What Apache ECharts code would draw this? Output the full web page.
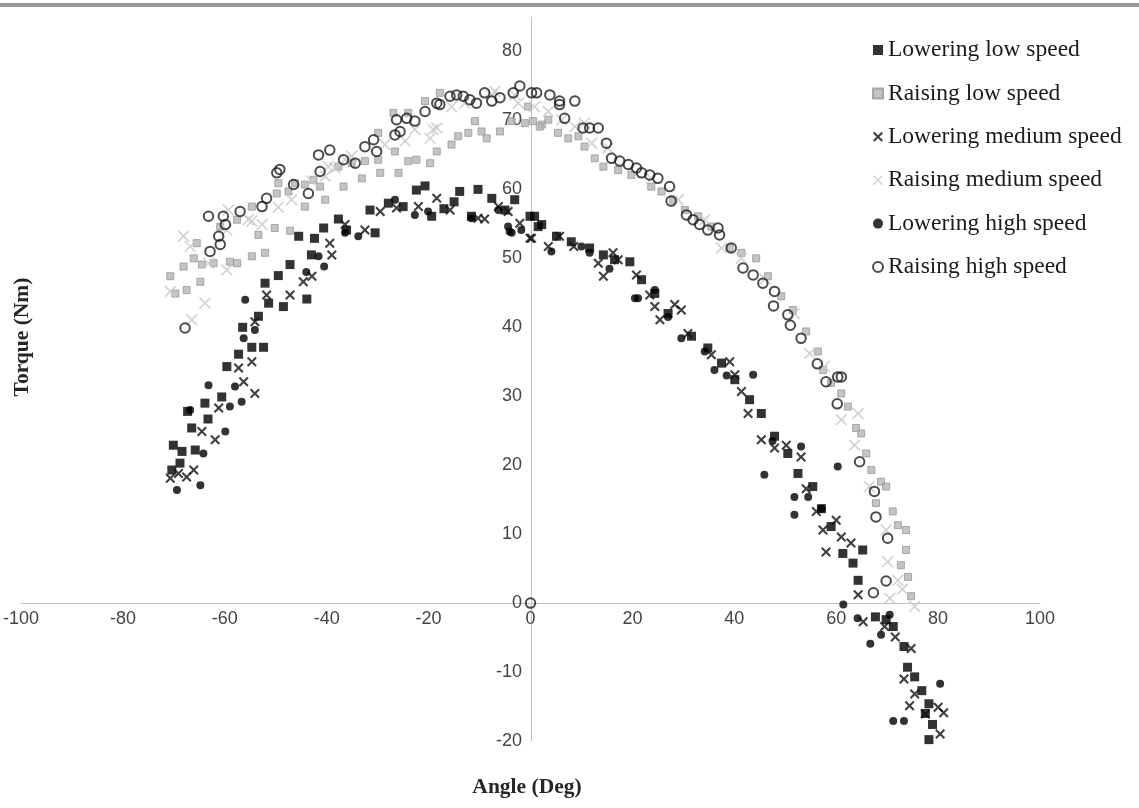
<!DOCTYPE html>
<html>
<head>
<meta charset="utf-8">
<script src="https://cdn.jsdelivr.net/npm/echarts@6/dist/echarts.min.js"></script>
<style>html,body{margin:0;padding:0;background:#fff}#c{width:1139px;height:808px}</style>
</head>
<body>
<div id="c"></div>
<script>
const seriesNames = ['Lowering low speed','Raising low speed','Lowering medium speed','Raising medium speed','Lowering high speed','Raising high speed'];
const xTicks = [-100,-80,-60,-40,-20,0,20,40,60,80,100];
const yTicks = [-20,-10,0,10,20,30,40,50,60,70,80];

const loweringLow = [[-70.4,19.3],[-68.8,20.3],[-70.1,22.9],[-68.4,22.0],[-65.8,22.2],[-66.5,25.4],[-67.3,27.8],[-63.3,26.7],[-63.9,29.0],[-60.6,29.9],[-59.6,34.3],[-57.3,36.1],[-54.7,37.1],[-52.4,37.1],[-56.5,40.0],[-53.4,41.6],[-51.4,43.5],[-48.5,43.0],[-43.9,44.1],[-52.1,46.4],[-49.5,47.5],[-47.2,49.1],[-43.0,50.5],[-45.5,53.2],[-42.4,52.9],[-40.6,54.4],[-37.7,55.7],[-36.1,54.1],[-30.5,53.7],[-31.5,57.0],[-27.9,58.0],[-25.0,57.5],[-22.4,59.9],[-20.7,60.5],[-19.4,56.1],[-17.0,57.2],[-15.0,58.2],[-13.9,59.7],[-11.6,56.1],[-10.3,60.0],[-7.6,58.7],[-5.0,57.0],[-3.1,58.5],[-0.1,56.1],[0.8,56.1],[1.5,54.6],[2.2,54.9],[5.1,53.2],[8.0,52.4],[11.6,51.5],[14.3,50.5],[16.5,49.8],[19.5,49.5],[21.8,46.9],[24.4,44.9],[27.0,42.0],[31.6,38.7],[34.8,37.0],[37.5,34.8],[40.1,32.4],[43.0,29.5],[45.3,27.5],[47.9,24.2],[50.5,21.7],[52.5,18.8],[55.4,16.9],[57.1,13.7],[59.0,11.1],[61.3,7.2],[63.3,5.8],[64.3,3.3],[65.2,7.7],[67.7,-2.0],[69.8,-2.4],[71.2,-3.4],[73.3,-6.3],[74.0,-9.3],[75.4,-10.7],[76.8,-12.7],[78.2,-14.6],[77.5,-16.0],[78.9,-17.6],[78.2,-19.8]];

const raisingLow = [[-70.7,47.4],[-69.7,44.9],[-68.1,48.8],[-67.5,45.4],[-66.1,50.0],[-64.8,46.6],[-64.5,49.1],[-62.2,49.3],[-59.0,49.5],[-57.6,49.3],[-54.7,50.3],[-52.1,50.8],[-53.4,53.4],[-50.2,54.4],[-47.2,54.0],[-44.3,57.5],[-40.3,58.5],[-36.7,60.4],[-33.1,61.6],[-29.5,62.4],[-25.9,62.4],[-24.0,64.1],[-22.4,64.3],[-19.7,63.8],[-18.4,65.5],[-15.5,66.5],[-14.2,67.7],[-12.2,68.2],[-9.6,68.4],[-8.6,67.4],[-6.0,68.4],[-3.7,69.9],[-1.1,69.6],[2.2,69.4],[-65.5,52.2],[-60.9,54.6],[-57.6,55.6],[-54.7,57.5],[-49.8,59.4],[-47.5,59.7],[-49.5,60.9],[-46.2,60.9],[-44.3,60.7],[-42.6,61.4],[-41.3,60.4],[-37.7,63.3],[-35.1,63.8],[-32.5,64.1],[-29.9,64.3],[-26.6,65.5],[-29.9,68.2],[-26.9,71.1],[-24.0,71.1],[-20.7,72.8],[-17.8,74.0],[-10.9,69.9],[-0.5,72.0],[0.5,69.9],[1.8,69.1],[3.5,70.1],[5.4,68.2],[7.4,67.4],[9.4,67.7],[10.6,66.2],[12.6,64.5],[14.3,63.3],[17.2,62.8],[19.8,62.1],[23.7,60.4],[25.7,59.7],[28.0,58.5],[30.3,57.0],[32.9,56.1],[35.5,54.6],[39.1,51.5],[41.4,50.8],[44.3,50.0],[46.6,47.4],[49.2,44.5],[51.5,42.5],[54.1,39.4],[56.4,36.5],[57.4,33.8],[59.0,31.9],[61.0,30.4],[62.3,28.5],[63.9,25.4],[64.9,24.6],[65.9,21.7],[66.9,19.3],[68.8,17.6],[69.8,16.9],[67.8,14.5],[71.1,13.3],[72.1,11.3],[73.7,10.6],[73.7,7.7],[72.7,5.5],[74.1,3.8],[74.7,1.0]];

const loweringMedium = [[-70.7,18.1],[-69.1,18.8],[-67.5,18.3],[-66.1,19.3],[-64.5,24.9],[-61.9,23.7],[-61.2,28.3],[-57.3,34.1],[-56.3,32.1],[-54.7,35.0],[-54.1,30.4],[-54.1,40.8],[-51.8,44.7],[-47.2,44.7],[-44.6,46.6],[-42.9,47.4],[-39.0,50.5],[-39.4,52.2],[-36.4,54.9],[-32.5,54.1],[-29.5,56.8],[-26.3,57.3],[-22.0,57.5],[-18.4,58.7],[-15.8,57.0],[-10.3,55.8],[-9.0,55.7],[-6.3,57.5],[-4.4,56.8],[-2.1,55.1],[-0.1,52.9],[0.2,52.9],[3.5,51.7],[5.7,53.2],[8.5,51.7],[13.3,49.3],[14.3,47.4],[16.2,50.8],[17.2,49.8],[20.8,47.6],[23.4,44.7],[24.4,43.0],[25.4,41.1],[28.3,43.3],[29.6,42.5],[30.9,39.1],[35.5,36.0],[39.1,35.0],[40.1,33.1],[41.4,30.7],[42.7,27.5],[45.3,23.7],[47.9,22.5],[50.2,22.9],[53.1,21.2],[54.1,16.6],[56.1,13.3],[57.4,10.6],[58.0,7.4],[60.0,12.0],[61.0,9.6],[62.9,8.7],[64.3,1.2],[65.3,-2.7],[69.5,-3.4],[71.6,-4.9],[74.7,-6.6],[73.3,-11.0],[75.4,-13.2],[74.4,-14.9],[77.5,-16.1],[80.0,-15.1],[81.1,-15.9],[80.4,-19.0]];

const raisingMedium = [[-70.7,45.2],[-68.1,53.2],[-66.8,51.7],[-66.5,41.1],[-63.9,43.5],[-63.2,49.3],[-59.6,48.3],[-59.3,57.0],[-59.6,54.1],[-55.4,55.6],[-54.7,55.4],[-52.7,54.9],[-49.5,57.4],[-46.9,58.5],[-42.9,61.2],[-40.3,61.9],[-39.7,63.3],[-38.4,63.1],[-36.4,64.3],[-35.1,64.8],[-28.6,66.5],[-24.6,67.0],[-22.7,68.7],[-19.1,68.7],[-19.7,67.4],[-18.4,68.9],[-15.5,72.0],[-12.9,72.5],[-7.6,73.7],[-7.0,74.2],[-3.1,73.7],[-2.4,72.5],[0.8,72.0],[3.5,71.3],[6.1,70.1],[8.7,69.1],[10.6,69.6],[12.0,66.7],[15.2,66.0],[20.5,62.4],[23.7,61.6],[29.0,58.5],[34.2,55.6],[37.5,51.5],[41.4,50.0],[46.0,47.0],[51.8,42.0],[54.8,36.2],[57.7,34.3],[61.0,26.6],[64.3,27.5],[63.6,22.9],[66.5,16.9],[69.8,10.6],[70.1,6.0],[72.1,3.3],[73.0,2.0],[70.5,0.7],[75.4,-0.5]];

const loweringHigh = [[-69.4,16.4],[-64.8,17.1],[-64.2,21.7],[-59.9,24.9],[-66.8,28.0],[-63.2,31.6],[-59.0,28.5],[-58.0,31.4],[-56.7,29.2],[-56.3,38.4],[-54.1,39.6],[-56.0,44.0],[-44.0,48.0],[-40.5,48.8],[-41.6,50.3],[-36.4,53.7],[-33.8,53.2],[-26.6,58.5],[-22.7,56.3],[-20.1,56.8],[-11.6,55.8],[-6.3,57.0],[-4.4,54.6],[-4.1,53.9],[-3.7,53.7],[-1.8,54.1],[4.1,51.0],[10.0,51.7],[11.6,50.8],[15.5,48.5],[20.5,44.2],[21.1,44.2],[24.4,45.4],[27.0,41.5],[29.6,38.4],[34.2,36.5],[36.1,33.8],[38.5,33.0],[43.7,33.1],[45.9,18.6],[47.5,23.5],[51.8,15.4],[51.8,12.8],[53.1,22.7],[54.5,15.4],[57.1,13.7],[60.3,19.8],[61.4,-0.2],[64.2,-2.2],[66.7,-5.9],[68.8,-4.6],[70.5,-1.7],[71.2,-17.1],[73.3,-17.1],[80.4,-11.7]];

const raisingHigh = [[-67.8,39.9],[-62.9,51.0],[-61.2,53.2],[-60.9,52.0],[-63.2,56.1],[-60.3,56.1],[-59.9,54.9],[-57.0,56.8],[-52.7,57.5],[-51.8,58.7],[-49.8,62.4],[-49.2,62.9],[-46.5,60.7],[-43.6,59.4],[-41.3,62.6],[-41.6,65.0],[-39.4,65.7],[-36.7,64.3],[-34.4,63.8],[-32.5,66.2],[-30.2,65.5],[-30.8,67.2],[-26.6,67.9],[-25.6,68.4],[-26.3,70.1],[-24.3,70.3],[-22.7,69.9],[-20.7,71.3],[-18.4,72.5],[-17.8,72.3],[-15.8,73.5],[-14.5,73.7],[-13.2,73.5],[-11.9,73.0],[-10.6,72.5],[-9.0,74.0],[-7.6,72.8],[-6.0,73.3],[-3.4,74.0],[-2.1,75.0],[0.2,74.0],[1.2,74.0],[3.8,73.7],[5.7,72.8],[8.7,72.8],[5.7,72.3],[6.7,70.3],[10.3,68.9],[11.6,68.9],[13.3,68.9],[14.9,66.7],[15.9,64.5],[17.5,64.1],[19.2,63.6],[20.8,63.1],[21.8,62.4],[23.4,62.1],[25.0,61.6],[27.3,60.4],[27.6,58.3],[30.6,56.3],[31.9,55.6],[33.2,54.9],[34.8,54.1],[36.8,54.4],[37.1,53.4],[39.4,51.5],[41.7,48.6],[43.7,47.6],[45.6,46.4],[47.9,45.2],[47.7,43.1],[50.5,41.8],[51.0,40.3],[53.1,38.4],[56.3,34.7],[58.0,32.1],[60.3,32.8],[61.0,32.8],[60.2,28.9],[64.6,20.5],[67.5,16.2],[67.8,12.5],[70.1,9.4],[69.8,3.2],[67.3,1.5],[0,0]];

const X_BOLD = 'path://M0,1.5L1.5,0L5,3.5L8.5,0L10,1.5L6.5,5L10,8.5L8.5,10L5,6.5L1.5,10L0,8.5L3.5,5Z';
const X_THIN = 'path://M0,1L1,0L5,4L9,0L10,1L6,5L10,9L9,10L5,6L1,10L0,9L4,5Z';

// grid geometry
const G = {left:20, right:99, top:17, bottom:67, w:1139, h:808};
const xMin = xTicks[0], xMax = xTicks[xTicks.length-1], yMin = yTicks[0], yMax = 85;
const gridW = G.w - G.left - G.right, gridH = G.h - G.top - G.bottom;
// shift axes so they cross at zero (labels move with them)
const xAxisOffset = -gridH * (0 - yMin) / (yMax - yMin);
const yAxisOffset = -gridW * (0 - xMin) / (xMax - xMin);

const chart = echarts.init(document.getElementById('c'), null, {renderer:'canvas'});
const tickFont = {fontFamily:'Liberation Sans', fontSize:18, color:'#444'};

chart.setOption({
  animation:false,
  backgroundColor:'#fff',
  grid:{left:G.left, right:G.right, top:G.top, bottom:G.bottom},
  xAxis:{type:'value', min:xMin, max:xMax, interval:20, offset:xAxisOffset,
    axisLine:{onZero:false, lineStyle:{color:'#bfbfbf', width:1}},
    axisTick:{show:false}, splitLine:{show:false},
    axisLabel:Object.assign({margin:7, formatter:v=>xTicks.includes(v)?String(v):''}, tickFont)},
  yAxis:{type:'value', min:yMin, max:yMax, interval:10, offset:yAxisOffset,
    axisLine:{onZero:false, lineStyle:{color:'#bfbfbf', width:1}},
    axisTick:{show:false}, splitLine:{show:false},
    axisLabel:Object.assign({margin:9, formatter:v=>yTicks.includes(v)?String(v):''}, tickFont)},
  legend:{orient:'vertical', left:867, top:32, itemWidth:10, itemHeight:10, itemGap:17.4,
    selectedMode:false,
    textStyle:{fontFamily:'Liberation Serif', fontSize:23.5, lineHeight:26, color:'#1a1a1a'},
    data:seriesNames},
  graphic:[
    {type:'rect', shape:{x:0,y:3,width:1139,height:4}, style:{fill:'#9a9a9a'}, silent:true},
    {type:'text', x:527, y:787, style:{text:'Angle (Deg)', font:'bold 21.5px "Liberation Serif"', fill:'#262626', textAlign:'center', textVerticalAlign:'middle'}},
    {type:'text', x:22, y:337, rotation:Math.PI/2, style:{text:'Torque (Nm)', font:'bold 21.5px "Liberation Serif"', fill:'#262626', textAlign:'center', textVerticalAlign:'middle'}}
  ],
  series:[
    {name:seriesNames[0], type:'scatter', data:loweringLow, symbol:'rect', symbolSize:9, itemStyle:{color:'#000'}, z:5},
    {name:seriesNames[1], type:'scatter', data:raisingLow, symbol:'rect', symbolSize:7, itemStyle:{color:'#b5b5b5', borderColor:'#999', borderWidth:1}, z:2},
    {name:seriesNames[2], type:'scatter', data:loweringMedium, symbol:X_BOLD, symbolSize:10, itemStyle:{color:'#111'}, z:5},
    {name:seriesNames[3], type:'scatter', data:raisingMedium, symbol:X_THIN, symbolSize:12, itemStyle:{color:'#c8c8c8'}, z:2},
    {name:seriesNames[4], type:'scatter', data:loweringHigh, symbol:'circle', symbolSize:8, itemStyle:{color:'#000'}, z:5},
    {name:seriesNames[5], type:'scatter', data:raisingHigh, symbol:'circle', symbolSize:9.5, itemStyle:{color:'rgba(255,255,255,0)', borderColor:'#1e1e1e', borderWidth:2}, z:3}
  ]
});
</script>
</body>
</html>
